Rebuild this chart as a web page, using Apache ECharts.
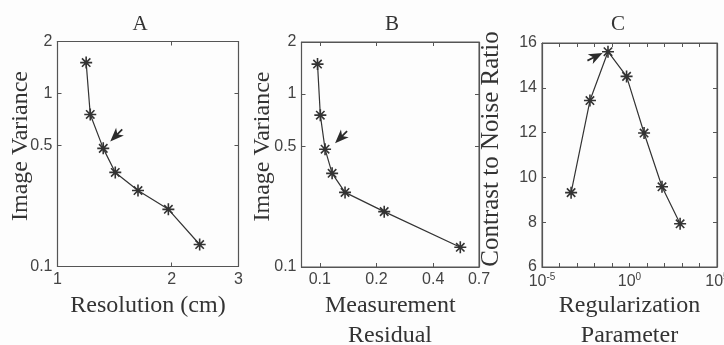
<!DOCTYPE html>
<html>
<head>
<meta charset="utf-8">
<script src="https://cdn.jsdelivr.net/npm/echarts@6/dist/echarts.min.js"></script>
<style>
  html, body { margin: 0; padding: 0; background: #fdfdfd; }
  #chart { width: 724px; height: 345px; }
</style>
</head>
<body>
<div id="chart"></div>
<script>
// panel A: resolution vs image variance
const resA = [1.19, 1.22, 1.32, 1.42, 1.63, 1.96, 2.37];
const varA = [1.51, 0.757, 0.482, 0.35, 0.275, 0.214, 0.134];
// panel B: measurement residual vs image variance
const residB = [0.0973, 0.1007, 0.1067, 0.1163, 0.1362, 0.2198, 0.557];
const varB = [1.49, 0.755, 0.48, 0.348, 0.27, 0.209, 0.13];
// panel C: regularization parameter vs CNR
const regC = [4.6e-4, 5.5e-3, 0.059, 0.68, 6.8, 72, 780];
const cnrC = [9.32, 13.43, 15.61, 14.51, 11.98, 9.58, 7.93];

// axis ranges / ticks
const ticksResA = [1, 2, 3];
const ticksVar = [0.1, 0.5, 1, 2];
const ticksResidB = [0.1, 0.2, 0.4, 0.7];
const rangeResidB = [0.08, 0.7];
const ticksRegC = [-5, -4, -3, -2, -1, 0, 1, 2, 3, 4, 5]; // decades
const labelsRegC = [-5, 0, 5];
const ticksCnr = [6, 8, 10, 12, 14, 16];

// which point the arrow marks
const arrowA = 2, arrowB = 2, arrowC = 2;

const lg = Math.log10;
const ink = '#333';
const axisInk = '#555';
const serif = '"Liberation Serif", "DejaVu Serif", serif';
const sans = '"Liberation Sans", Arial, sans-serif';

const star = 'path://M6,0L6,12M0,6L12,6M1.8,1.8L10.2,10.2M1.8,10.2L10.2,1.8';
const arrow = 'path://M5,0L10,13L5.8,10L5.8,16L4.2,16L4.2,10L0,13Z';

const fmtNum = (v) => String(+Math.pow(10, v).toPrecision(3));

function axisBase(gridIndex, position, min, max, tickVals, labelVals, formatter) {
  return {
    type: 'value',
    gridIndex,
    position,
    min,
    max,
    axisLine: { show: true, onZero: false, lineStyle: { color: axisInk, width: 1.2 } },
    axisTick: { show: true, inside: true, length: 4, customValues: tickVals, lineStyle: { color: axisInk } },
    axisLabel: labelVals
      ? { show: true, customValues: labelVals, formatter, color: '#444', fontFamily: sans, fontSize: 16, margin: 5 }
      : { show: false },
    splitLine: { show: false },
  };
}

// main axis (labels + name) and a mirrored one on the opposite side (ticks only)
function pair(gridIndex, isX, min, max, tickVals, labelVals, formatter, name, nameGap, nameSize, namePad) {
  const main = axisBase(gridIndex, isX ? 'bottom' : 'left', min, max, tickVals, labelVals, formatter);
  main.name = name;
  main.nameLocation = 'middle';
  main.nameGap = nameGap;
  main.nameMoveOverlap = false;
  main.nameTextStyle = { fontFamily: serif, fontSize: nameSize, color: ink, lineHeight: isX ? 30 : 24, padding: namePad || 0 };
  const mirror = axisBase(gridIndex, isX ? 'top' : 'right', min, max, tickVals, null);
  return [main, mirror];
}

const varTicks = ticksVar.map(lg);

const xAxis = [
  ...pair(0, true, lg(ticksResA[0]), lg(ticksResA[ticksResA.length - 1]), ticksResA.map(lg), ticksResA.map(lg), fmtNum, 'Resolution (cm)', 24, 24),
  ...pair(1, true, lg(rangeResidB[0]), lg(rangeResidB[1]), ticksResidB.map(lg), ticksResidB.map(lg), fmtNum, 'Measurement', 24, 24),
  ...pair(2, true, ticksRegC[0], ticksRegC[ticksRegC.length - 1], ticksRegC, labelsRegC, (v) => '{b|10}{s|' + v + '}', 'Regularization', 24, 24),
];
xAxis[4].axisLabel.rich = {
  b: { fontFamily: sans, fontSize: 16, color: '#444', lineHeight: 20 },
  s: { fontFamily: sans, fontSize: 10, color: '#444', lineHeight: 10, verticalAlign: 'top' },
};

const yAxis = [
  ...pair(0, false, varTicks[0], varTicks[varTicks.length - 1], varTicks, varTicks, fmtNum, 'Image Variance', 25, 24, [0, 0, 0, 16]),
  ...pair(1, false, varTicks[0], varTicks[varTicks.length - 1], varTicks, varTicks, fmtNum, 'Image Variance', 27, 24, [0, 0, 0, 16]),
  ...pair(2, false, ticksCnr[0], ticksCnr[ticksCnr.length - 1], ticksCnr, ticksCnr, (v) => String(v), 'Contrast to Noise Ratio', 39, 25, [0, 0, 0, 12]),
];

function series(idx, xs, ys, logX, logY, arrowIdx, rot, offset) {
  const data = xs.map((x, i) => [logX ? lg(x) : x, logY ? lg(ys[i]) : ys[i]]);
  return {
    type: 'line',
    xAxisIndex: idx * 2,
    yAxisIndex: idx * 2,
    data,
    symbol: star,
    symbolSize: 12,
    lineStyle: { color: ink, width: 1.2 },
    itemStyle: { color: ink, borderColor: ink, borderWidth: 1.6 },
    markPoint: {
      symbol: arrow,
      symbolSize: [11, 17],
      symbolRotate: rot,
      symbolOffset: offset,
      itemStyle: { color: '#2b2b2b' },
      label: { show: false },
      data: [{ coord: data[arrowIdx] }],
    },
  };
}

const gridCommon = { outerBoundsMode: 'none', containLabel: false, show: true, borderColor: axisInk, borderWidth: 1, backgroundColor: 'transparent' };

const titleFont = '21px ' + serif;
const nameFont = '24px ' + serif;

const option = {
  backgroundColor: '#fdfdfd',
  animation: false,
  grid: [
    { ...gridCommon, left: 57.5, top: 41.5, width: 181, height: 225 },
    { ...gridCommon, left: 301.5, top: 42, width: 177.5, height: 225 },
    { ...gridCommon, left: 542, top: 43, width: 175, height: 224 },
  ],
  xAxis,
  yAxis,
  graphic: [
    { type: 'text', x: 140, y: 24, style: { text: 'A', align: 'center', verticalAlign: 'middle', font: titleFont, fill: ink } },
    { type: 'text', x: 392, y: 24, style: { text: 'B', align: 'center', verticalAlign: 'middle', font: titleFont, fill: ink } },
    { type: 'text', x: 618, y: 24, style: { text: 'C', align: 'center', verticalAlign: 'middle', font: titleFont, fill: ink } },
    // second line of the two-line x axis names
    { type: 'text', x: 390, y: 336, style: { text: 'Residual', align: 'center', verticalAlign: 'middle', font: nameFont, fill: ink } },
    { type: 'text', x: 629.5, y: 336, style: { text: 'Parameter', align: 'center', verticalAlign: 'middle', font: nameFont, fill: ink } },
  ],
  series: [
    series(0, resA, varA, true, true, arrowA, 135, [13, -13]),
    series(1, residB, varB, true, true, arrowB, 135, [16, -12]),
    series(2, regC.map(lg), cnrC, false, false, arrowC, -63, [-13, 5]),
  ],
};

const chart = echarts.init(document.getElementById('chart'), null, { renderer: 'canvas' });
chart.setOption(option);
</script>
</body>
</html>
